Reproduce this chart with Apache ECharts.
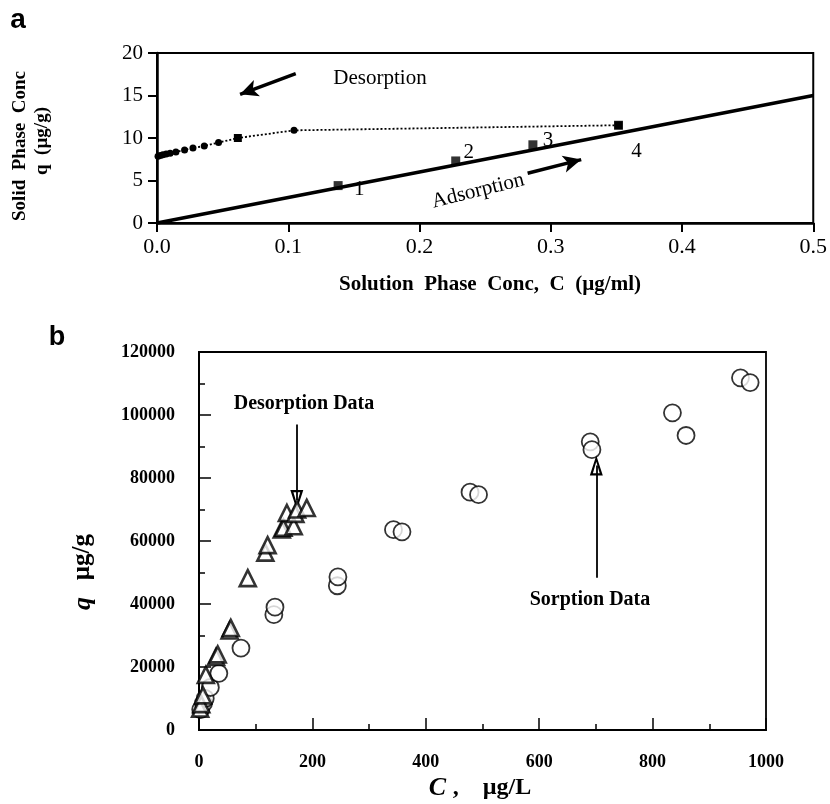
<!DOCTYPE html>
<html>
<head>
<meta charset="utf-8">
<script src="https://cdn.jsdelivr.net/npm/echarts@6/dist/echarts.min.js"></script>
<style>
html,body{margin:0;padding:0;background:#fff;}
#c{width:830px;height:804px;}
</style>
</head>
<body>
<div id="c"></div>
<script>
// ---------- Panel a data ----------
const aXTicks = [0, 0.1, 0.2, 0.3, 0.4, 0.5];
const aYTicks = [0, 5, 10, 15, 20];
const aAdsLineC = [0, 0.5];
const aAdsLineQ = [0, 15];
const aAdsPtC = [0.138, 0.2276, 0.2864, 0.3516];
const aAdsPtQ = [4.4, 7.3, 9.2, 11.5];
const aAdsPtLabels = ['1', '2', '3', '4'];
const aDesC = [0.3516, 0.1044, 0.0616, 0.0469, 0.0360, 0.0274, 0.0210, 0.0144, 0.0100, 0.0070, 0.0045, 0.0025, 0.0008];
const aDesQ = [11.5, 10.9, 10.0, 9.46, 9.06, 8.82, 8.59, 8.35, 8.22, 8.12, 8.02, 7.94, 7.85];
const aDesShape = ['rect', 'circle', 'rect', 'circle', 'circle', 'circle', 'circle', 'circle', 'circle', 'circle', 'circle', 'circle', 'circle'];

// ---------- Panel b data ----------
const bXTicks = [0, 200, 400, 600, 800, 1000];
const bYTicks = [0, 20000, 40000, 60000, 80000, 100000, 120000];
const bSorbC = [3, 8, 11, 20, 35, 74, 132, 134, 244, 245, 343, 358, 478, 493, 690, 693, 835, 859, 955, 972];
const bSorbQ = [6500, 8500, 10000, 13500, 18000, 26000, 36600, 39000, 45800, 48600, 63600, 62900, 75500, 74700, 91500, 89000, 100700, 93500, 111800, 110300];
const bDesC = [2, 4, 7, 12, 30, 33, 54, 56, 86, 117, 121, 146, 149, 155, 167, 170, 173, 190];
const bDesQ = [6800, 8200, 11000, 17500, 23200, 24000, 31600, 32400, 48200, 56300, 58700, 63700, 64200, 68900, 64700, 68600, 70000, 70500];

const zip = (xs, ys) => xs.map((x, i) => [x, ys[i]]);
const serif = 'Liberation Serif';
const openArrow = 'path://M5,0 L10,16 L0,16 Z M5,5 L2.4,14.2 L7.6,14.2 Z';

const chart = echarts.init(document.getElementById('c'), null, {renderer: 'canvas'});

function first(a){return a[0];}
function last(a){return a[a.length-1];}

const option = {
  animation: false,
  backgroundColor: '#fff',
  grid: [
    {left: 157, top: 53, width: 657, height: 170, show: true, borderColor: '#000', borderWidth: 2, backgroundColor: 'transparent'},
    {left: 199, top: 352, width: 567, height: 378, show: true, borderColor: '#000', borderWidth: 1.8, backgroundColor: 'transparent'}
  ],
  xAxis: [
    {gridIndex: 0, type: 'value', min: first(aXTicks), max: last(aXTicks), interval: aXTicks[1]-aXTicks[0],
     axisLine: {lineStyle: {color: '#000', width: 2.5}}, axisTick: {inside: false, length: 9, lineStyle: {width: 2}},
     axisLabel: {color: '#000', fontFamily: serif, fontSize: 22, margin: 13, formatter: v => v.toFixed(1)},
     splitLine: {show: false}},
    {gridIndex: 1, type: 'value', min: first(bXTicks), max: last(bXTicks), interval: bXTicks[1]-bXTicks[0],
     axisLine: {lineStyle: {color: '#000', width: 2}}, axisTick: {inside: true, length: 12, lineStyle: {width: 1.5}},
     minorTick: {show: true, splitNumber: 2, length: 6, lineStyle: {color: '#000', width: 1.5}},
     axisLabel: {color: '#000', fontFamily: serif, fontWeight: 'bold', fontSize: 18, margin: 23, formatter: v => String(v)},
     splitLine: {show: false}}
  ],
  yAxis: [
    {gridIndex: 0, type: 'value', min: first(aYTicks), max: last(aYTicks), interval: aYTicks[1]-aYTicks[0],
     axisLine: {lineStyle: {color: '#000', width: 2.5}}, axisTick: {inside: false, length: 9, lineStyle: {width: 2}},
     axisLabel: {color: '#000', fontFamily: serif, fontSize: 21, margin: 14},
     splitLine: {show: false}},
    {gridIndex: 1, type: 'value', min: first(bYTicks), max: last(bYTicks), interval: bYTicks[1]-bYTicks[0],
     axisLine: {lineStyle: {color: '#000', width: 2}}, axisTick: {inside: true, length: 12, lineStyle: {width: 1.5}},
     minorTick: {show: true, splitNumber: 2, length: 6, lineStyle: {color: '#000', width: 1.5}},
     axisLabel: {color: '#000', fontFamily: serif, fontWeight: 'bold', fontSize: 18, margin: 24, formatter: v => String(v)},
     splitLine: {show: false}}
  ],
  series: [
    {type: 'line', xAxisIndex: 0, yAxisIndex: 0, data: zip(aAdsLineC, aAdsLineQ), showSymbol: false, symbol: 'none',
     lineStyle: {color: '#000', width: 3.5}, z: 3,
     markLine: {silent: true, symbol: ['none', 'arrow'], symbolSize: [13, 18], label: {show: false},
       lineStyle: {color: '#000', width: 3.5, type: 'solid'},
       data: [
         [{coord: [0.1057, 17.58]}, {coord: [0.0633, 15.14]}],
         [{coord: [0.2824, 5.85]}, {coord: [0.3232, 7.46]}]
       ]}},
    {type: 'line', xAxisIndex: 0, yAxisIndex: 0,
     data: aDesC.map((c, i) => ({value: [c, aDesQ[i]], symbol: aDesShape[i], symbolSize: aDesShape[i] === 'rect' ? 8 : 7})),
     showAllSymbol: true, lineStyle: {color: '#000', width: 1.8, type: [2, 2]}, itemStyle: {color: '#000'}, z: 4},
    {type: 'scatter', xAxisIndex: 0, yAxisIndex: 0, data: zip(aAdsPtC, aAdsPtQ), symbol: 'rect', symbolSize: 9,
     itemStyle: {color: '#000'}, z: 5},
    {type: 'scatter', xAxisIndex: 1, yAxisIndex: 1, data: zip(bSorbC, bSorbQ), symbol: 'circle', symbolSize: 17,
     itemStyle: {color: '#fff', borderColor: '#000', borderWidth: 1.8}, z: 4,
     markLine: {silent: true, symbol: ['none', openArrow], symbolSize: [13, 20], label: {show: false},
       lineStyle: {color: '#000', width: 1.8, type: 'solid'},
       data: [
         [{coord: [172.5, 97000]}, {coord: [172.5, 73000]}],
         [{coord: [700.7, 48300]}, {coord: [700.7, 84000]}]
       ]}},
    {type: 'scatter', xAxisIndex: 1, yAxisIndex: 1, data: zip(bDesC, bDesQ), symbol: 'triangle', symbolSize: 16,
     itemStyle: {color: '#fff', borderColor: '#000', borderWidth: 2.6}, z: 5}
  ],
  graphic: []
};
chart.setOption(option);

function px(gi, c, q){ return chart.convertToPixel({gridIndex: gi}, [c, q]); }
const g = [];
function txt(x, y, text, font, extra){
  g.push(Object.assign({type: 'text', x: x, y: y, silent: true,
    style: Object.assign({text: text, fill: '#000', textAlign: 'center', textVerticalAlign: 'middle'}, font)}, extra || {}));
}
txt(18, 20, 'a', {font: 'bold 28px "Liberation Sans"'});
txt(57, 338, 'b', {font: 'bold 27px "Liberation Sans"'});
txt(20, 146, 'Solid  Phase  Conc', {font: 'bold 19px "Liberation Serif"'}, {rotation: Math.PI/2});
txt(42, 141, 'q  (\u00b5g/g)', {font: 'bold 19px "Liberation Serif"'}, {rotation: Math.PI/2});
txt(490, 285, 'Solution  Phase  Conc,  C  (\u00b5g/ml)', {font: 'bold 21px "Liberation Serif"'});
txt(380, 78, 'Desorption', {font: '21px "Liberation Serif"'});
txt(478, 191, 'Adsorption', {font: '21px "Liberation Serif"'}, {rotation: 14 * Math.PI / 180});
const lblOff = [[21, 4], [13, -8], [15, -4], [18, 26]];
aAdsPtLabels.forEach((l, i) => {
  const p = px(0, aAdsPtC[i], aAdsPtQ[i]);
  txt(p[0] + lblOff[i][0], p[1] + lblOff[i][1], l, {font: '21px "Liberation Serif"'});
});
g.push({type: 'text', x: 83, y: 572, rotation: Math.PI/2, silent: true,
  style: {text: '{q|q}     {u|\u00b5g/g}', textAlign: 'center', textVerticalAlign: 'middle', fill: '#000',
    rich: {q: {fontFamily: serif, fontStyle: 'italic', fontWeight: 'bold', fontSize: 26},
           u: {fontFamily: serif, fontWeight: 'bold', fontSize: 25}}}});
g.push({type: 'text', x: 480, y: 788, silent: true,
  style: {text: '{c|C}  {u|,    \u00b5g/L}', textAlign: 'center', textVerticalAlign: 'middle', fill: '#000',
    rich: {c: {fontFamily: serif, fontStyle: 'italic', fontWeight: 'bold', fontSize: 26},
           u: {fontFamily: serif, fontWeight: 'bold', fontSize: 24}}}});
txt(304, 404, 'Desorption Data', {font: 'bold 20px "Liberation Serif"'});
txt(590, 600, 'Sorption Data', {font: 'bold 20px "Liberation Serif"'});
chart.setOption({graphic: g});
</script>
</body>
</html>
